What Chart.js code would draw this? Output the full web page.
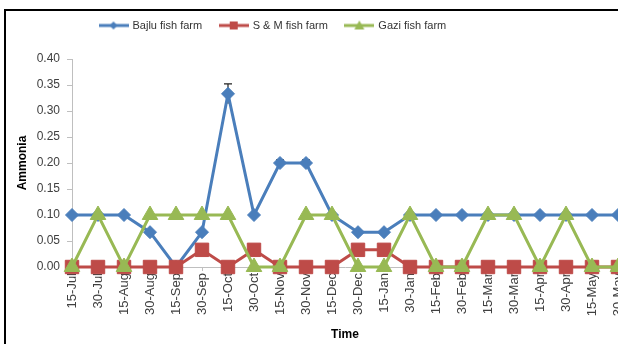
<!DOCTYPE html>
<html>
<head>
<meta charset="utf-8">
<script src="https://cdn.jsdelivr.net/npm/chart.js@4.4.0/dist/chart.umd.min.js"></script>
<style>
  html, body { margin: 0; padding: 0; background: #fff; overflow: hidden; width: 618px; height: 344px; }
  #frame { position: absolute; left: 4px; top: 9px; width: 700px; height: 400px;
           border-left: 2px solid #000; border-top: 2px solid #000; }
  #wrap { position: absolute; left: 6px; top: 12px; width: 640px; height: 332px; }
</style>
</head>
<body>
<div id="frame"></div>
<div id="wrap"><canvas id="c" width="640" height="332"></canvas></div>
<script>
// Sampling dates (fortnightly)
const dates = ['15-Jul','30-Jul','15-Aug','30-Aug','15-Sep','30-Sep','15-Oct','30-Oct',
               '15-Nov','30-Nov','15-Dec','30-Dec','15-Jan','30-Jan','15-Feb','30-Feb',
               '15-Mar','30-Mar','15-Apr','30-Apr','15-May','30-May'];

// Ammonia (mg/L) per farm
const bajlu = [0.10,0.10,0.10,0.067,0.00,0.067,0.333,0.10,0.20,0.20,0.10,0.067,
               0.067,0.10,0.10,0.10,0.10,0.10,0.10,0.10,0.10,0.10];
const smFarm = [0,0,0,0,0,0.033,0,0.033,0,0,0,0.033,0.033,0,0,0,0,0,0,0,0,0];
const gazi = [0,0.10,0,0.10,0.10,0.10,0.10,0,0,0.10,0.10,0,0,0.10,0,0,
              0.10,0.10,0,0.10,0,0];

// Standard error for Bajlu fish farm
const bajluErr = [0,0,0,0,0,0,0.019,0,0.006,0.006,0,0,0,0,0,0,0,0,0,0,0,0];

const yTicks = [0,0.05,0.10,0.15,0.20,0.25,0.30,0.35,0.40];

const BLUE = '#4A7EBB', RED = '#BE4B48', GREEN = '#98B954';
const FONT = '"Liberation Sans", Arial, sans-serif';

// Legend swatch: short line with the series marker in the middle
function swatch(color, kind) {
  const cv = document.createElement('canvas');
  cv.width = 30; cv.height = 12;
  const g = cv.getContext('2d');
  g.strokeStyle = color; g.fillStyle = color; g.lineWidth = 3;
  g.beginPath(); g.moveTo(0, 6); g.lineTo(30, 6); g.stroke();
  g.beginPath();
  if (kind === 'diamond') { g.moveTo(15, 2); g.lineTo(19, 6); g.lineTo(15, 10); g.lineTo(11, 6); }
  else if (kind === 'square') { g.rect(11, 2, 8, 8); }
  else { g.moveTo(15, 1); g.lineTo(20, 10); g.lineTo(10, 10); }
  g.closePath(); g.fill();
  return cv;
}
const swatches = [swatch(BLUE, 'diamond'), swatch(RED, 'square'), swatch(GREEN, 'triangle')];

// Vertical error bars with a cap, drawn beneath the markers
const errorBars = {
  id: 'errorBars',
  beforeDatasetsDraw(chart) {
    const meta = chart.getDatasetMeta(0);
    const y = chart.scales.y;
    const ctx = chart.ctx;
    ctx.save();
    ctx.strokeStyle = '#222';
    ctx.lineWidth = 1.2;
    meta.data.forEach((pt, i) => {
      const e = bajluErr[i];
      if (!e) return;
      const top = y.getPixelForValue(bajlu[i] + e);
      const bot = y.getPixelForValue(bajlu[i] - e);
      ctx.beginPath();
      ctx.moveTo(pt.x, bot); ctx.lineTo(pt.x, top);
      ctx.moveTo(pt.x - 4, top); ctx.lineTo(pt.x + 4, top);
      ctx.stroke();
    });
    ctx.restore();
  }
};

// Place the legend row near the top-left, above the plot
const legendPlacement = {
  id: 'legendPlacement',
  afterLayout(chart) {
    const lg = chart.legend;
    const w = lg.right - lg.left;
    lg.left = 76;
    lg.right = lg.left + w;
    lg.top -= 18;
    lg.bottom -= 18;
  }
};

new Chart(document.getElementById('c'), {
  type: 'line',
  data: {
    labels: dates,
    datasets: [
      { label: 'Bajlu fish farm', data: bajlu, order: 3,
        borderColor: BLUE, backgroundColor: BLUE, borderWidth: 3,
        pointStyle: 'rectRot', pointRadius: 6.5, pointBorderWidth: 1,
        pointBackgroundColor: BLUE, pointBorderColor: BLUE, tension: 0, clip: false },
      { label: 'S & M fish farm', data: smFarm, order: 2,
        borderColor: RED, backgroundColor: RED, borderWidth: 3,
        pointStyle: 'rect', pointRadius: 9.5, pointBorderWidth: 1,
        pointBackgroundColor: RED, pointBorderColor: RED, tension: 0, clip: false },
      { label: 'Gazi fish farm', data: gazi, order: 1,
        borderColor: GREEN, backgroundColor: GREEN, borderWidth: 3,
        pointStyle: 'triangle', pointRadius: 9, pointBorderWidth: 1,
        pointBackgroundColor: GREEN, pointBorderColor: GREEN, tension: 0, clip: false }
    ]
  },
  options: {
    responsive: false,
    animation: false,
    devicePixelRatio: 1,
    layout: { padding: { left: 0, right: 28, top: 8, bottom: 0 } },
    plugins: {
      tooltip: { enabled: false },
      legend: {
        position: 'top',
        align: 'start',
        labels: {
          usePointStyle: true,
          pointStyleWidth: 27,
          padding: 18,
          color: '#333',
          font: { family: FONT, size: 11 },
          sort: (a, b) => a.datasetIndex - b.datasetIndex,
          generateLabels(chart) {
            const items = Chart.defaults.plugins.legend.labels.generateLabels(chart);
            items.forEach(it => { it.pointStyle = swatches[it.datasetIndex]; });
            return items;
          }
        }
      }
    },
    scales: {
      x: {
        offset: false,
        afterFit(s) { s.height = 77; },
        grid: { drawOnChartArea: false, drawTicks: true, tickLength: 4, color: '#bfbfbf' },
        border: { color: '#bfbfbf', width: 1 },
        ticks: { minRotation: 90, maxRotation: 90, autoSkip: false, padding: 2,
                 color: '#404040', font: { family: FONT, size: 13 } },
        title: { display: true, text: 'Time', color: '#000',
                 font: { family: FONT, size: 12, weight: 'bold' }, padding: { top: 2, bottom: 2 } }
      },
      y: {
        min: 0, max: 0.4,
        afterFit(s) { s.width = 66; },
        afterBuildTicks(s) { s.ticks = yTicks.map(v => ({ value: v })); },
        grid: { drawOnChartArea: false, drawTicks: true, tickLength: 5, color: '#bfbfbf' },
        border: { color: '#bfbfbf', width: 1 },
        ticks: { padding: 7, color: '#404040', font: { family: FONT, size: 12 },
                 callback: v => v.toFixed(2) },
        title: { display: true, text: 'Ammonia', color: '#000',
                 font: { family: FONT, size: 12, weight: 'bold' }, padding: { top: 9, bottom: 0 } }
      }
    }
  },
  plugins: [errorBars, legendPlacement]
});
</script>
</body>
</html>
